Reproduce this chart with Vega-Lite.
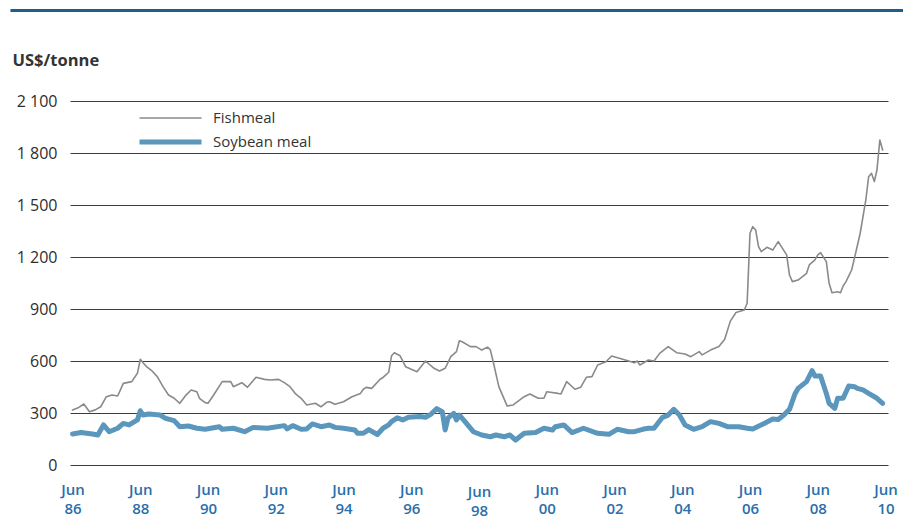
{
  "$schema": "https://vega.github.io/schema/vega-lite/v6.json",
  "width": 818,
  "height": 364,
  "autosize": "none",
  "padding": {"left": 70, "top": 101, "right": 15, "bottom": 53},
  "background": "white",
  "config": {
    "view": {"stroke": null},
    "font": "Open Sans"
  },
  "datasets": {
    "prices": [
      {"date": "1986-06-01", "series": "Fishmeal", "price": 317},
      {"date": "1986-08-01", "series": "Fishmeal", "price": 330},
      {"date": "1986-10-01", "series": "Fishmeal", "price": 352},
      {"date": "1986-12-01", "series": "Fishmeal", "price": 307},
      {"date": "1987-02-01", "series": "Fishmeal", "price": 318},
      {"date": "1987-04-01", "series": "Fishmeal", "price": 336},
      {"date": "1987-06-01", "series": "Fishmeal", "price": 394},
      {"date": "1987-08-01", "series": "Fishmeal", "price": 404},
      {"date": "1987-10-01", "series": "Fishmeal", "price": 398},
      {"date": "1987-12-01", "series": "Fishmeal", "price": 471},
      {"date": "1988-03-01", "series": "Fishmeal", "price": 481},
      {"date": "1988-05-01", "series": "Fishmeal", "price": 529},
      {"date": "1988-06-01", "series": "Fishmeal", "price": 610},
      {"date": "1988-07-01", "series": "Fishmeal", "price": 590},
      {"date": "1988-08-01", "series": "Fishmeal", "price": 571},
      {"date": "1988-10-01", "series": "Fishmeal", "price": 545},
      {"date": "1988-12-01", "series": "Fishmeal", "price": 510},
      {"date": "1989-02-01", "series": "Fishmeal", "price": 452},
      {"date": "1989-04-01", "series": "Fishmeal", "price": 404},
      {"date": "1989-06-01", "series": "Fishmeal", "price": 385},
      {"date": "1989-08-01", "series": "Fishmeal", "price": 356},
      {"date": "1989-10-01", "series": "Fishmeal", "price": 400},
      {"date": "1989-12-01", "series": "Fishmeal", "price": 433},
      {"date": "1990-02-01", "series": "Fishmeal", "price": 423},
      {"date": "1990-03-01", "series": "Fishmeal", "price": 385},
      {"date": "1990-05-01", "series": "Fishmeal", "price": 360},
      {"date": "1990-06-01", "series": "Fishmeal", "price": 356},
      {"date": "1990-08-01", "series": "Fishmeal", "price": 404},
      {"date": "1990-11-01", "series": "Fishmeal", "price": 481},
      {"date": "1991-02-01", "series": "Fishmeal", "price": 481},
      {"date": "1991-03-01", "series": "Fishmeal", "price": 452},
      {"date": "1991-06-01", "series": "Fishmeal", "price": 475},
      {"date": "1991-08-01", "series": "Fishmeal", "price": 448},
      {"date": "1991-11-01", "series": "Fishmeal", "price": 506},
      {"date": "1992-02-01", "series": "Fishmeal", "price": 494},
      {"date": "1992-04-01", "series": "Fishmeal", "price": 490},
      {"date": "1992-07-01", "series": "Fishmeal", "price": 494},
      {"date": "1992-09-01", "series": "Fishmeal", "price": 475},
      {"date": "1992-11-01", "series": "Fishmeal", "price": 452},
      {"date": "1993-01-01", "series": "Fishmeal", "price": 410},
      {"date": "1993-03-01", "series": "Fishmeal", "price": 385},
      {"date": "1993-05-01", "series": "Fishmeal", "price": 346},
      {"date": "1993-08-01", "series": "Fishmeal", "price": 356},
      {"date": "1993-10-01", "series": "Fishmeal", "price": 336},
      {"date": "1993-12-01", "series": "Fishmeal", "price": 362},
      {"date": "1994-01-01", "series": "Fishmeal", "price": 365},
      {"date": "1994-03-01", "series": "Fishmeal", "price": 350},
      {"date": "1994-06-01", "series": "Fishmeal", "price": 365},
      {"date": "1994-09-01", "series": "Fishmeal", "price": 394},
      {"date": "1994-12-01", "series": "Fishmeal", "price": 413},
      {"date": "1995-01-01", "series": "Fishmeal", "price": 437},
      {"date": "1995-02-01", "series": "Fishmeal", "price": 448},
      {"date": "1995-04-01", "series": "Fishmeal", "price": 442},
      {"date": "1995-07-01", "series": "Fishmeal", "price": 495},
      {"date": "1995-08-01", "series": "Fishmeal", "price": 505},
      {"date": "1995-09-01", "series": "Fishmeal", "price": 520},
      {"date": "1995-10-01", "series": "Fishmeal", "price": 535},
      {"date": "1995-11-01", "series": "Fishmeal", "price": 630},
      {"date": "1995-12-01", "series": "Fishmeal", "price": 648},
      {"date": "1996-02-01", "series": "Fishmeal", "price": 630},
      {"date": "1996-04-01", "series": "Fishmeal", "price": 567},
      {"date": "1996-06-01", "series": "Fishmeal", "price": 552},
      {"date": "1996-08-01", "series": "Fishmeal", "price": 538},
      {"date": "1996-11-01", "series": "Fishmeal", "price": 600},
      {"date": "1997-02-01", "series": "Fishmeal", "price": 558},
      {"date": "1997-04-01", "series": "Fishmeal", "price": 542},
      {"date": "1997-06-01", "series": "Fishmeal", "price": 558},
      {"date": "1997-08-01", "series": "Fishmeal", "price": 625},
      {"date": "1997-10-01", "series": "Fishmeal", "price": 654},
      {"date": "1997-11-01", "series": "Fishmeal", "price": 717},
      {"date": "1997-12-01", "series": "Fishmeal", "price": 711},
      {"date": "1998-03-01", "series": "Fishmeal", "price": 683},
      {"date": "1998-05-01", "series": "Fishmeal", "price": 683},
      {"date": "1998-07-01", "series": "Fishmeal", "price": 663},
      {"date": "1998-09-01", "series": "Fishmeal", "price": 680},
      {"date": "1998-10-01", "series": "Fishmeal", "price": 665},
      {"date": "1998-11-01", "series": "Fishmeal", "price": 596},
      {"date": "1999-01-01", "series": "Fishmeal", "price": 452},
      {"date": "1999-04-01", "series": "Fishmeal", "price": 340},
      {"date": "1999-06-01", "series": "Fishmeal", "price": 346},
      {"date": "1999-10-01", "series": "Fishmeal", "price": 394},
      {"date": "1999-12-01", "series": "Fishmeal", "price": 410},
      {"date": "2000-03-01", "series": "Fishmeal", "price": 385},
      {"date": "2000-05-01", "series": "Fishmeal", "price": 385},
      {"date": "2000-06-01", "series": "Fishmeal", "price": 423},
      {"date": "2000-10-01", "series": "Fishmeal", "price": 413},
      {"date": "2000-11-01", "series": "Fishmeal", "price": 410},
      {"date": "2001-01-01", "series": "Fishmeal", "price": 481},
      {"date": "2001-04-01", "series": "Fishmeal", "price": 437},
      {"date": "2001-06-01", "series": "Fishmeal", "price": 448},
      {"date": "2001-08-01", "series": "Fishmeal", "price": 506},
      {"date": "2001-10-01", "series": "Fishmeal", "price": 510},
      {"date": "2001-12-01", "series": "Fishmeal", "price": 577},
      {"date": "2002-03-01", "series": "Fishmeal", "price": 596},
      {"date": "2002-05-01", "series": "Fishmeal", "price": 629},
      {"date": "2002-08-01", "series": "Fishmeal", "price": 615},
      {"date": "2002-11-01", "series": "Fishmeal", "price": 600},
      {"date": "2003-01-01", "series": "Fishmeal", "price": 590},
      {"date": "2003-02-01", "series": "Fishmeal", "price": 600},
      {"date": "2003-03-01", "series": "Fishmeal", "price": 577},
      {"date": "2003-06-01", "series": "Fishmeal", "price": 606},
      {"date": "2003-08-01", "series": "Fishmeal", "price": 600},
      {"date": "2003-10-01", "series": "Fishmeal", "price": 644},
      {"date": "2004-01-01", "series": "Fishmeal", "price": 683},
      {"date": "2004-04-01", "series": "Fishmeal", "price": 648},
      {"date": "2004-07-01", "series": "Fishmeal", "price": 640},
      {"date": "2004-09-01", "series": "Fishmeal", "price": 625},
      {"date": "2004-12-01", "series": "Fishmeal", "price": 654},
      {"date": "2005-01-01", "series": "Fishmeal", "price": 635},
      {"date": "2005-04-01", "series": "Fishmeal", "price": 663},
      {"date": "2005-07-01", "series": "Fishmeal", "price": 683},
      {"date": "2005-09-01", "series": "Fishmeal", "price": 725},
      {"date": "2005-11-01", "series": "Fishmeal", "price": 830},
      {"date": "2006-01-01", "series": "Fishmeal", "price": 880},
      {"date": "2006-04-01", "series": "Fishmeal", "price": 894},
      {"date": "2006-05-01", "series": "Fishmeal", "price": 933},
      {"date": "2006-06-01", "series": "Fishmeal", "price": 1337},
      {"date": "2006-07-01", "series": "Fishmeal", "price": 1375},
      {"date": "2006-08-01", "series": "Fishmeal", "price": 1356},
      {"date": "2006-09-01", "series": "Fishmeal", "price": 1260},
      {"date": "2006-10-01", "series": "Fishmeal", "price": 1231},
      {"date": "2006-12-01", "series": "Fishmeal", "price": 1256},
      {"date": "2007-02-01", "series": "Fishmeal", "price": 1240},
      {"date": "2007-04-01", "series": "Fishmeal", "price": 1289},
      {"date": "2007-07-01", "series": "Fishmeal", "price": 1212},
      {"date": "2007-08-01", "series": "Fishmeal", "price": 1096},
      {"date": "2007-09-01", "series": "Fishmeal", "price": 1058},
      {"date": "2007-11-01", "series": "Fishmeal", "price": 1067},
      {"date": "2008-02-01", "series": "Fishmeal", "price": 1106},
      {"date": "2008-03-01", "series": "Fishmeal", "price": 1154},
      {"date": "2008-05-01", "series": "Fishmeal", "price": 1183},
      {"date": "2008-06-01", "series": "Fishmeal", "price": 1212},
      {"date": "2008-07-01", "series": "Fishmeal", "price": 1225},
      {"date": "2008-09-01", "series": "Fishmeal", "price": 1173},
      {"date": "2008-10-01", "series": "Fishmeal", "price": 1048},
      {"date": "2008-11-01", "series": "Fishmeal", "price": 994},
      {"date": "2009-01-01", "series": "Fishmeal", "price": 1000},
      {"date": "2009-02-01", "series": "Fishmeal", "price": 994},
      {"date": "2009-03-01", "series": "Fishmeal", "price": 1033},
      {"date": "2009-04-01", "series": "Fishmeal", "price": 1058},
      {"date": "2009-06-01", "series": "Fishmeal", "price": 1125},
      {"date": "2009-07-01", "series": "Fishmeal", "price": 1192},
      {"date": "2009-09-01", "series": "Fishmeal", "price": 1337},
      {"date": "2009-11-01", "series": "Fishmeal", "price": 1529},
      {"date": "2009-12-01", "series": "Fishmeal", "price": 1663},
      {"date": "2010-01-01", "series": "Fishmeal", "price": 1683},
      {"date": "2010-02-01", "series": "Fishmeal", "price": 1635},
      {"date": "2010-03-01", "series": "Fishmeal", "price": 1702},
      {"date": "2010-04-01", "series": "Fishmeal", "price": 1875},
      {"date": "2010-05-01", "series": "Fishmeal", "price": 1817},
      {"date": "1986-06-01", "series": "Soybean meal", "price": 179},
      {"date": "1986-09-01", "series": "Soybean meal", "price": 187},
      {"date": "1987-01-01", "series": "Soybean meal", "price": 179},
      {"date": "1987-03-01", "series": "Soybean meal", "price": 173},
      {"date": "1987-05-01", "series": "Soybean meal", "price": 231},
      {"date": "1987-07-01", "series": "Soybean meal", "price": 192},
      {"date": "1987-10-01", "series": "Soybean meal", "price": 212},
      {"date": "1987-12-01", "series": "Soybean meal", "price": 240},
      {"date": "1988-02-01", "series": "Soybean meal", "price": 231},
      {"date": "1988-05-01", "series": "Soybean meal", "price": 260},
      {"date": "1988-06-01", "series": "Soybean meal", "price": 313},
      {"date": "1988-07-01", "series": "Soybean meal", "price": 288},
      {"date": "1988-09-01", "series": "Soybean meal", "price": 294},
      {"date": "1989-01-01", "series": "Soybean meal", "price": 288},
      {"date": "1989-03-01", "series": "Soybean meal", "price": 269},
      {"date": "1989-06-01", "series": "Soybean meal", "price": 256},
      {"date": "1989-08-01", "series": "Soybean meal", "price": 221},
      {"date": "1989-11-01", "series": "Soybean meal", "price": 225},
      {"date": "1990-02-01", "series": "Soybean meal", "price": 212},
      {"date": "1990-05-01", "series": "Soybean meal", "price": 206},
      {"date": "1990-10-01", "series": "Soybean meal", "price": 221},
      {"date": "1990-11-01", "series": "Soybean meal", "price": 206},
      {"date": "1991-03-01", "series": "Soybean meal", "price": 212},
      {"date": "1991-07-01", "series": "Soybean meal", "price": 192},
      {"date": "1991-10-01", "series": "Soybean meal", "price": 217},
      {"date": "1992-03-01", "series": "Soybean meal", "price": 212},
      {"date": "1992-09-01", "series": "Soybean meal", "price": 227},
      {"date": "1992-10-01", "series": "Soybean meal", "price": 208},
      {"date": "1992-12-01", "series": "Soybean meal", "price": 227},
      {"date": "1993-03-01", "series": "Soybean meal", "price": 206},
      {"date": "1993-05-01", "series": "Soybean meal", "price": 208},
      {"date": "1993-07-01", "series": "Soybean meal", "price": 237},
      {"date": "1993-10-01", "series": "Soybean meal", "price": 221},
      {"date": "1994-01-01", "series": "Soybean meal", "price": 231},
      {"date": "1994-03-01", "series": "Soybean meal", "price": 217},
      {"date": "1994-06-01", "series": "Soybean meal", "price": 212},
      {"date": "1994-10-01", "series": "Soybean meal", "price": 202},
      {"date": "1994-11-01", "series": "Soybean meal", "price": 183},
      {"date": "1995-01-01", "series": "Soybean meal", "price": 183},
      {"date": "1995-03-01", "series": "Soybean meal", "price": 204},
      {"date": "1995-06-01", "series": "Soybean meal", "price": 176},
      {"date": "1995-08-01", "series": "Soybean meal", "price": 212},
      {"date": "1995-10-01", "series": "Soybean meal", "price": 231},
      {"date": "1995-11-01", "series": "Soybean meal", "price": 250},
      {"date": "1996-01-01", "series": "Soybean meal", "price": 272},
      {"date": "1996-03-01", "series": "Soybean meal", "price": 260},
      {"date": "1996-05-01", "series": "Soybean meal", "price": 275},
      {"date": "1996-09-01", "series": "Soybean meal", "price": 280},
      {"date": "1996-11-01", "series": "Soybean meal", "price": 275},
      {"date": "1997-01-01", "series": "Soybean meal", "price": 294},
      {"date": "1997-03-01", "series": "Soybean meal", "price": 325},
      {"date": "1997-05-01", "series": "Soybean meal", "price": 308},
      {"date": "1997-06-01", "series": "Soybean meal", "price": 202},
      {"date": "1997-07-01", "series": "Soybean meal", "price": 270},
      {"date": "1997-09-01", "series": "Soybean meal", "price": 298},
      {"date": "1997-10-01", "series": "Soybean meal", "price": 260},
      {"date": "1997-11-01", "series": "Soybean meal", "price": 288},
      {"date": "1998-01-01", "series": "Soybean meal", "price": 250},
      {"date": "1998-04-01", "series": "Soybean meal", "price": 192},
      {"date": "1998-07-01", "series": "Soybean meal", "price": 173},
      {"date": "1998-10-01", "series": "Soybean meal", "price": 163},
      {"date": "1998-12-01", "series": "Soybean meal", "price": 173},
      {"date": "1999-03-01", "series": "Soybean meal", "price": 163},
      {"date": "1999-05-01", "series": "Soybean meal", "price": 173},
      {"date": "1999-07-01", "series": "Soybean meal", "price": 144},
      {"date": "1999-10-01", "series": "Soybean meal", "price": 183},
      {"date": "2000-02-01", "series": "Soybean meal", "price": 187},
      {"date": "2000-05-01", "series": "Soybean meal", "price": 212},
      {"date": "2000-08-01", "series": "Soybean meal", "price": 202},
      {"date": "2000-09-01", "series": "Soybean meal", "price": 221},
      {"date": "2000-12-01", "series": "Soybean meal", "price": 231},
      {"date": "2001-03-01", "series": "Soybean meal", "price": 187},
      {"date": "2001-07-01", "series": "Soybean meal", "price": 212},
      {"date": "2001-12-01", "series": "Soybean meal", "price": 183},
      {"date": "2002-04-01", "series": "Soybean meal", "price": 177},
      {"date": "2002-07-01", "series": "Soybean meal", "price": 206},
      {"date": "2002-11-01", "series": "Soybean meal", "price": 192},
      {"date": "2003-01-01", "series": "Soybean meal", "price": 192},
      {"date": "2003-04-01", "series": "Soybean meal", "price": 206},
      {"date": "2003-06-01", "series": "Soybean meal", "price": 212},
      {"date": "2003-08-01", "series": "Soybean meal", "price": 212},
      {"date": "2003-11-01", "series": "Soybean meal", "price": 275},
      {"date": "2004-01-01", "series": "Soybean meal", "price": 288},
      {"date": "2004-03-01", "series": "Soybean meal", "price": 321},
      {"date": "2004-05-01", "series": "Soybean meal", "price": 288},
      {"date": "2004-07-01", "series": "Soybean meal", "price": 231},
      {"date": "2004-10-01", "series": "Soybean meal", "price": 206},
      {"date": "2005-01-01", "series": "Soybean meal", "price": 221},
      {"date": "2005-04-01", "series": "Soybean meal", "price": 250},
      {"date": "2005-07-01", "series": "Soybean meal", "price": 240},
      {"date": "2005-10-01", "series": "Soybean meal", "price": 221},
      {"date": "2006-02-01", "series": "Soybean meal", "price": 221},
      {"date": "2006-05-01", "series": "Soybean meal", "price": 212},
      {"date": "2006-07-01", "series": "Soybean meal", "price": 208},
      {"date": "2006-11-01", "series": "Soybean meal", "price": 240},
      {"date": "2007-02-01", "series": "Soybean meal", "price": 265},
      {"date": "2007-04-01", "series": "Soybean meal", "price": 263},
      {"date": "2007-06-01", "series": "Soybean meal", "price": 288},
      {"date": "2007-08-01", "series": "Soybean meal", "price": 321},
      {"date": "2007-10-01", "series": "Soybean meal", "price": 413},
      {"date": "2007-11-01", "series": "Soybean meal", "price": 442},
      {"date": "2008-02-01", "series": "Soybean meal", "price": 481},
      {"date": "2008-04-01", "series": "Soybean meal", "price": 544},
      {"date": "2008-05-01", "series": "Soybean meal", "price": 513},
      {"date": "2008-07-01", "series": "Soybean meal", "price": 513},
      {"date": "2008-09-01", "series": "Soybean meal", "price": 413},
      {"date": "2008-10-01", "series": "Soybean meal", "price": 356},
      {"date": "2008-12-01", "series": "Soybean meal", "price": 327},
      {"date": "2009-01-01", "series": "Soybean meal", "price": 385},
      {"date": "2009-03-01", "series": "Soybean meal", "price": 385},
      {"date": "2009-05-01", "series": "Soybean meal", "price": 456},
      {"date": "2009-07-01", "series": "Soybean meal", "price": 452},
      {"date": "2009-08-01", "series": "Soybean meal", "price": 442},
      {"date": "2009-10-01", "series": "Soybean meal", "price": 433},
      {"date": "2009-12-01", "series": "Soybean meal", "price": 413},
      {"date": "2010-03-01", "series": "Soybean meal", "price": 385},
      {"date": "2010-05-01", "series": "Soybean meal", "price": 356}
    ]
  },
  "layer": [
    {
      "data": {"values": [{}]},
      "mark": {"type": "rule", "color": "#1d5f8a", "strokeWidth": 3},
      "encoding": {
        "x": {"datum": {"year": 1984, "month": 8, "date": 1, "utc": true}, "type": "temporal"},
        "x2": {"datum": {"year": 2011, "month": 6, "date": 1, "utc": true}},
        "y": {"datum": 2622, "type": "quantitative"}
      }
    },
    {
      "data": {"name": "prices"},
      "mark": {"type": "line", "strokeJoin": "round", "strokeCap": "round"},
      "encoding": {
        "x": {
          "field": "date",
          "type": "temporal",
          "scale": {
            "domain": [
              {"year": 1986, "month": 5, "date": 5, "utc": true},
              {"year": 2010, "month": 6, "date": 28, "utc": true}
            ]
          },
          "axis": {
            "title": null,
            "grid": false,
            "domain": false,
            "ticks": false,
            "values": [
              {"year": 1986, "month": 6, "date": 1, "utc": true},
              {"year": 1988, "month": 6, "date": 1, "utc": true},
              {"year": 1990, "month": 6, "date": 1, "utc": true},
              {"year": 1992, "month": 6, "date": 1, "utc": true},
              {"year": 1994, "month": 6, "date": 1, "utc": true},
              {"year": 1996, "month": 6, "date": 1, "utc": true},
              {"year": 1998, "month": 6, "date": 1, "utc": true},
              {"year": 2000, "month": 6, "date": 1, "utc": true},
              {"year": 2002, "month": 6, "date": 1, "utc": true},
              {"year": 2004, "month": 6, "date": 1, "utc": true},
              {"year": 2006, "month": 6, "date": 1, "utc": true},
              {"year": 2008, "month": 6, "date": 1, "utc": true},
              {"year": 2010, "month": 6, "date": 1, "utc": true}
            ],
            "labelExpr": "['Jun', utcFormat(datum.value, '%y')]",
            "labelFont": "Open Sans",
            "labelFontSize": 15,
            "labelFontWeight": 600,
            "labelColor": "#2a6fab",
            "labelLineHeight": 19,
            "labelBaseline": "top",
            "labelPadding": {"condition": {"test": "utcyear(datum.value) == 1998", "value": 19}, "value": 17},
            "labelOverlap": false,
            "labelFlush": false
          }
        },
        "y": {
          "field": "price",
          "type": "quantitative",
          "scale": {"domain": [0, 2100], "nice": false},
          "axis": {
            "title": "US$/tonne",
            "titleAngle": 0,
            "titleAlign": "left",
            "titleBaseline": "alphabetic",
            "titleX": -58,
            "titleY": -36,
            "titleFont": "Open Sans",
            "titleFontSize": 16.5,
            "titleFontWeight": "bold",
            "titleColor": "#333333",
            "values": [0, 300, 600, 900, 1200, 1500, 1800, 2100],
            "labelExpr": "replace(format(datum.value, ','), ',', ' ')",
            "labelFont": "Open Sans",
            "labelFontSize": 16,
            "labelColor": "#2e2e2e",
            "labelPadding": 13,
            "domain": false,
            "ticks": false,
            "grid": true,
            "gridColor": "#3c3c3c",
            "gridWidth": 1.2
          }
        },
        "color": {
          "field": "series",
          "type": "nominal",
          "scale": {"domain": ["Fishmeal", "Soybean meal"], "range": ["#8a8a8a", "#5b96bd"]},
          "legend": {
            "title": null,
            "orient": "none",
            "legendX": 67,
            "legendY": 11,
            "symbolType": "stroke",
            "symbolSize": 3844,
            "clipHeight": 12,
            "rowPadding": 9,
            "labelFont": "Open Sans",
            "labelFontSize": 15,
            "labelColor": "#333333",
            "labelOffset": 9
          }
        },
        "strokeWidth": {
          "field": "series",
          "type": "nominal",
          "scale": {"type": "ordinal", "domain": ["Fishmeal", "Soybean meal"], "range": [1.6, 5]},
          "legend": {
            "title": null,
            "orient": "none",
            "legendX": 67,
            "legendY": 11,
            "symbolType": "stroke",
            "symbolSize": 3844,
            "clipHeight": 12,
            "rowPadding": 9,
            "labelFont": "Open Sans",
            "labelFontSize": 15,
            "labelColor": "#333333",
            "labelOffset": 9
          }
        }
      }
    }
  ]
}
